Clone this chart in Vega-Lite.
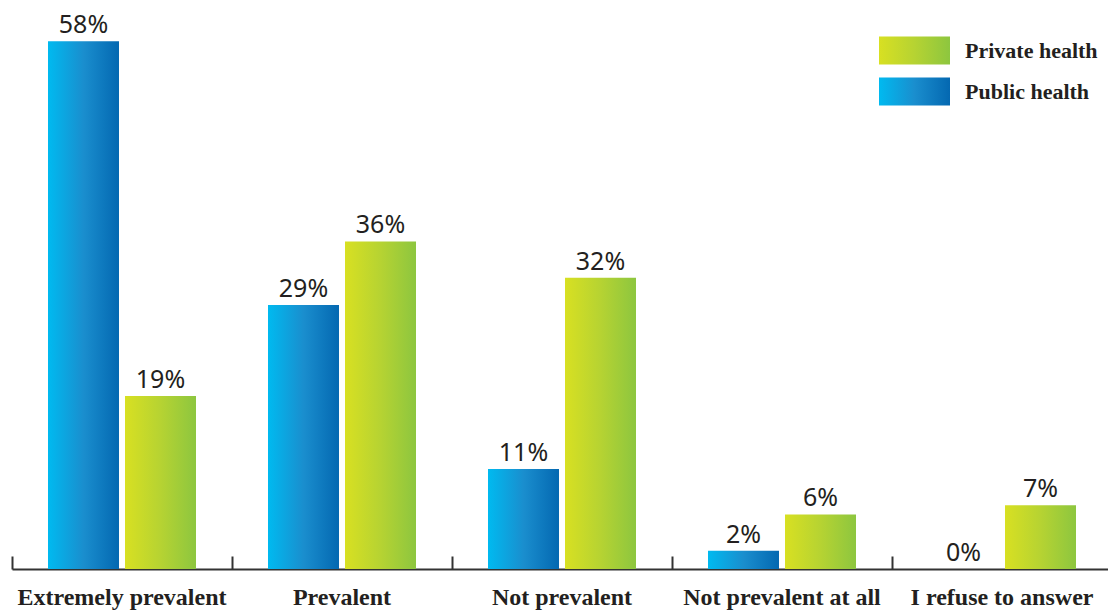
{
  "$schema": "https://vega.github.io/schema/vega-lite/v6.json",
  "autosize": "none",
  "width": 1100,
  "height": 546,
  "padding": {"left": 12, "top": 23, "right": 0, "bottom": 41},
  "background": "white",
  "config": {"view": {"stroke": null}},
  "data": {"values": [
    {"category": "Extremely prevalent", "series": "Public health", "value": 0.58},
    {"category": "Extremely prevalent", "series": "Private health", "value": 0.19},
    {"category": "Prevalent", "series": "Public health", "value": 0.29},
    {"category": "Prevalent", "series": "Private health", "value": 0.36},
    {"category": "Not prevalent", "series": "Public health", "value": 0.11},
    {"category": "Not prevalent", "series": "Private health", "value": 0.32},
    {"category": "Not prevalent at all", "series": "Public health", "value": 0.02},
    {"category": "Not prevalent at all", "series": "Private health", "value": 0.06},
    {"category": "I refuse to answer", "series": "Public health", "value": 0.0},
    {"category": "I refuse to answer", "series": "Private health", "value": 0.07}
  ]},
  "resolve": {"scale": {"opacity": "independent"}, "legend": {"opacity": "independent"}},
  "encoding": {
    "x": {
      "field": "category", "type": "nominal", "sort": null,
      "scale": {"paddingInner": 0, "paddingOuter": 0},
      "axis": {
        "title": null, "labelAngle": 0, "bandPosition": 0,
        "domainColor": "#333333", "domainWidth": 2,
        "tickColor": "#333333", "tickWidth": 2, "tickSize": -13,
        "labelFont": "Liberation Serif", "labelFontWeight": "bold", "labelFontSize": 24,
        "labelColor": "#231f20", "labelPadding": 29, "labelBaseline": "top",
        "labelBound": false, "labelOverlap": false, "labelLimit": 0
      }
    },
    "xOffset": {
      "field": "series", "type": "nominal",
      "scale": {"domain": ["Public health", "Private health"], "paddingInner": 0.078, "paddingOuter": 0.4675}
    },
    "y": {
      "field": "value", "type": "quantitative",
      "scale": {"domain": [0, 0.6]}, "axis": null
    }
  },
  "layer": [
    {
      "transform": [{"filter": "datum.series === 'Public health'"}],
      "mark": {"type": "bar", "clip": false,
        "fill": {"gradient": "linear", "x1": 0, "y1": 0, "x2": 1, "y2": 0, "stops": [{"offset": 0, "color": "#00baf0"}, {"offset": 0.5, "color": "#1a8ece"}, {"offset": 1, "color": "#0468b1"}]}
      },
      "encoding": {
        "opacity": {
          "field": "series", "type": "nominal",
          "scale": {"type": "point", "domain": ["Public health"], "range": [1, 1]},
          "legend": {
            "title": null, "orient": "none", "legendX": 867, "legendY": 33,
            "symbolType": "M-1,-0.394H1V0.394H-1Z", "symbolSize": 5041,
            "symbolStrokeWidth": 0, "symbolStrokeColor": "transparent",
            "labelFont": "Liberation Serif", "labelFontWeight": "bold", "labelFontSize": 22,
            "labelColor": "#231f20", "labelOffset": 15, "labelLimit": 0
          }
        }
      }
    },
    {
      "transform": [{"filter": "datum.series === 'Private health'"}],
      "mark": {"type": "bar", "clip": false,
        "fill": {"gradient": "linear", "x1": 0, "y1": 0, "x2": 1, "y2": 0, "stops": [{"offset": 0, "color": "#d8e022"}, {"offset": 0.5, "color": "#b6d332"}, {"offset": 1, "color": "#8dc63f"}]}
      },
      "encoding": {
        "opacity": {
          "field": "series", "type": "nominal",
          "scale": {"type": "point", "domain": ["Private health"], "range": [1, 1]},
          "legend": {
            "title": null, "orient": "none", "legendX": 867, "legendY": -8,
            "symbolType": "M-1,-0.394H1V0.394H-1Z", "symbolSize": 5041,
            "symbolStrokeWidth": 0, "symbolStrokeColor": "transparent",
            "labelFont": "Liberation Serif", "labelFontWeight": "bold", "labelFontSize": 22,
            "labelColor": "#231f20", "labelOffset": 15, "labelLimit": 0
          }
        }
      }
    },
    {
      "mark": {"type": "text", "baseline": "alphabetic", "dy": -8, "font": "Noto Sans", "fontSize": 25, "color": "#231f20"},
      "encoding": {
        "text": {"field": "value", "type": "quantitative", "format": ".0%"}
      }
    }
  ]
}
